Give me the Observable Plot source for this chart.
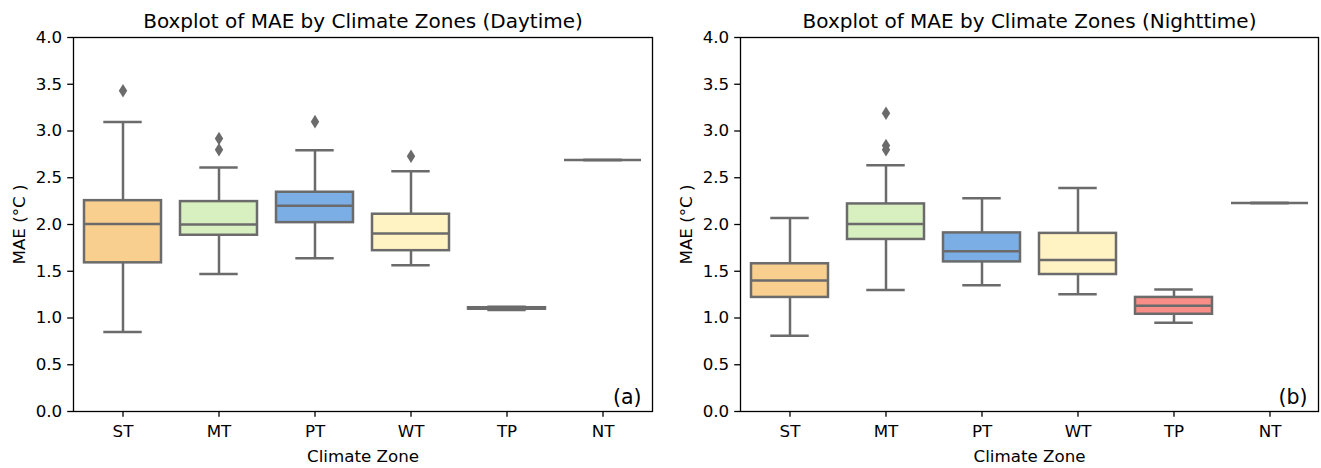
<!DOCTYPE html>
<html>
<head>
<meta charset="utf-8">
<script src="https://cdn.jsdelivr.net/npm/d3@7"></script>
<script src="https://cdn.jsdelivr.net/npm/@observablehq/plot@0.6"></script>
<style>
  html, body { margin: 0; padding: 0; background: #fff; }
  #wrap { position: relative; width: 1321px; height: 468px; overflow: hidden; background: #fff; }
  #wrap svg { position: absolute; top: 0; }
</style>
</head>
<body>
<div id="wrap"></div>
<script>
// ---- data ----
const zones = ["ST", "MT", "PT", "WT", "TP", "NT"];
const zoneColors = ["#F9CF8F", "#D8EFC0", "#7BAEE5", "#FFF2C3", "#F88E87", "#CDB4E6"];

// Daytime
const dayLow    = [0.85, 1.47, 1.64, 1.565, 1.085, 2.69];
const dayQ1     = [1.59, 1.885, 2.02, 1.72, 1.095, 2.69];
const dayMedian = [2.005, 2.00, 2.20, 1.905, 1.10, 2.69];
const dayQ3     = [2.255, 2.245, 2.345, 2.11, 1.11, 2.69];
const dayHigh   = [3.095, 2.61, 2.795, 2.57, 1.12, 2.69];
const dayOutZones  = ["ST", "MT", "MT", "PT", "WT"];
const dayOutValues = [3.43, 2.92, 2.80, 3.10, 2.73];

// Nighttime
const nightLow    = [0.81, 1.30, 1.35, 1.255, 0.95, 2.23];
const nightQ1     = [1.22, 1.84, 1.60, 1.465, 1.04, 2.23];
const nightMedian = [1.40, 2.005, 1.715, 1.62, 1.13, 2.23];
const nightQ3     = [1.58, 2.22, 1.91, 1.905, 1.22, 2.23];
const nightHigh   = [2.07, 2.635, 2.28, 2.39, 1.305, 2.23];
const nightOutZones  = ["MT", "MT", "MT"];
const nightOutValues = [3.19, 2.845, 2.80];

const yTicks = [0, 0.5, 1, 1.5, 2, 2.5, 3, 3.5, 4];

const titles = ["Boxplot of MAE by Climate Zones (Daytime)", "Boxplot of MAE by Climate Zones (Nighttime)"];
const panelTags = ["(a)", "(b)"];
const xLabel = "Climate Zone";
const yLabel = "MAE (°C )";

// ---- drawing ----
const gray = "#6b6b6b";
const thinDiamond = {
  draw(ctx, size) {
    const r = Math.sqrt(size / Math.PI);
    ctx.moveTo(0, -r);
    ctx.lineTo(0.62 * r, 0);
    ctx.lineTo(0, r);
    ctx.lineTo(-0.62 * r, 0);
    ctx.closePath();
  }
};

function panel({low, q1, median, q3, high, outZones, outValues, title, tag, left, width, marginLeft, marginRight}) {
  const rows = zones.map((z, i) => ({zone: z, color: zoneColors[i], low: low[i], q1: q1[i], median: median[i], q3: q3[i], high: high[i]}));
  const outs = outZones.map((z, i) => ({zone: z, value: outValues[i]}));
  const innerW = width - marginLeft - marginRight;
  const capInset = innerW / 6 * 0.8 / 4;
  const svg = Plot.plot({
    width, height: 468,
    marginLeft, marginRight, marginTop: 37, marginBottom: 57,
    style: {fontFamily: "'DejaVu Sans', sans-serif", fontSize: "16.7px", color: "#000", background: "#fff", overflow: "visible"},
    x: {domain: zones, paddingInner: 0.2, paddingOuter: 0.1},
    y: {domain: [0, 4]},
    color: {type: "identity"},
    marks: [
      Plot.ruleX(rows, {x: "zone", y1: "q3", y2: "high", stroke: gray, strokeWidth: 2.5}),
      Plot.ruleX(rows, {x: "zone", y1: "low", y2: "q1", stroke: gray, strokeWidth: 2.5}),
      Plot.tickY(rows, {x: "zone", y: "high", stroke: gray, strokeWidth: 2.5, insetLeft: capInset, insetRight: capInset}),
      Plot.tickY(rows, {x: "zone", y: "low", stroke: gray, strokeWidth: 2.5, insetLeft: capInset, insetRight: capInset}),
      Plot.barY(rows, {x: "zone", y1: "q1", y2: "q3", fill: "color", stroke: gray, strokeWidth: 2.5}),
      Plot.tickY(rows, {x: "zone", y: "median", stroke: gray, strokeWidth: 2.5}),
      Plot.dot(outs, {x: "zone", y: "value", symbol: thinDiamond, r: 6.8, fill: gray, stroke: "none"}),
      Plot.frame({stroke: "#000", strokeWidth: 1.3}),
      Plot.axisY({ticks: yTicks, tickFormat: d => d.toFixed(1), tickSize: 5.8, tickPadding: 5.5, strokeWidth: 1.3, label: null}),
      Plot.axisX({tickSize: 5.8, tickPadding: 8, strokeWidth: 1.3, label: null}),
      Plot.text([yLabel], {frameAnchor: "left", dx: -54, rotate: -90, textAnchor: "middle", lineAnchor: "middle", fontSize: 16.7}),
      Plot.text([xLabel], {frameAnchor: "bottom", dy: 38.8, lineAnchor: "top", fontSize: 16.7}),
      Plot.text([title], {frameAnchor: "top", dy: -10, lineAnchor: "bottom", fontSize: 20}),
      Plot.text([tag], {frameAnchor: "bottom-right", dx: -11, dy: -8, textAnchor: "end", lineAnchor: "bottom", fontSize: 20.5})
    ]
  });
  svg.style.left = left + "px";
  return svg;
}

const wrap = document.getElementById("wrap");
wrap.appendChild(panel({low: dayLow, q1: dayQ1, median: dayMedian, q3: dayQ3, high: dayHigh,
  outZones: dayOutZones, outValues: dayOutValues, title: titles[0], tag: panelTags[0],
  left: 0, width: 660, marginLeft: 73, marginRight: 8}));
wrap.appendChild(panel({low: nightLow, q1: nightQ1, median: nightMedian, q3: nightQ3, high: nightHigh,
  outZones: nightOutZones, outValues: nightOutValues, title: titles[1], tag: panelTags[1],
  left: 667, width: 654, marginLeft: 73, marginRight: 3}));
</script>
</body>
</html>
